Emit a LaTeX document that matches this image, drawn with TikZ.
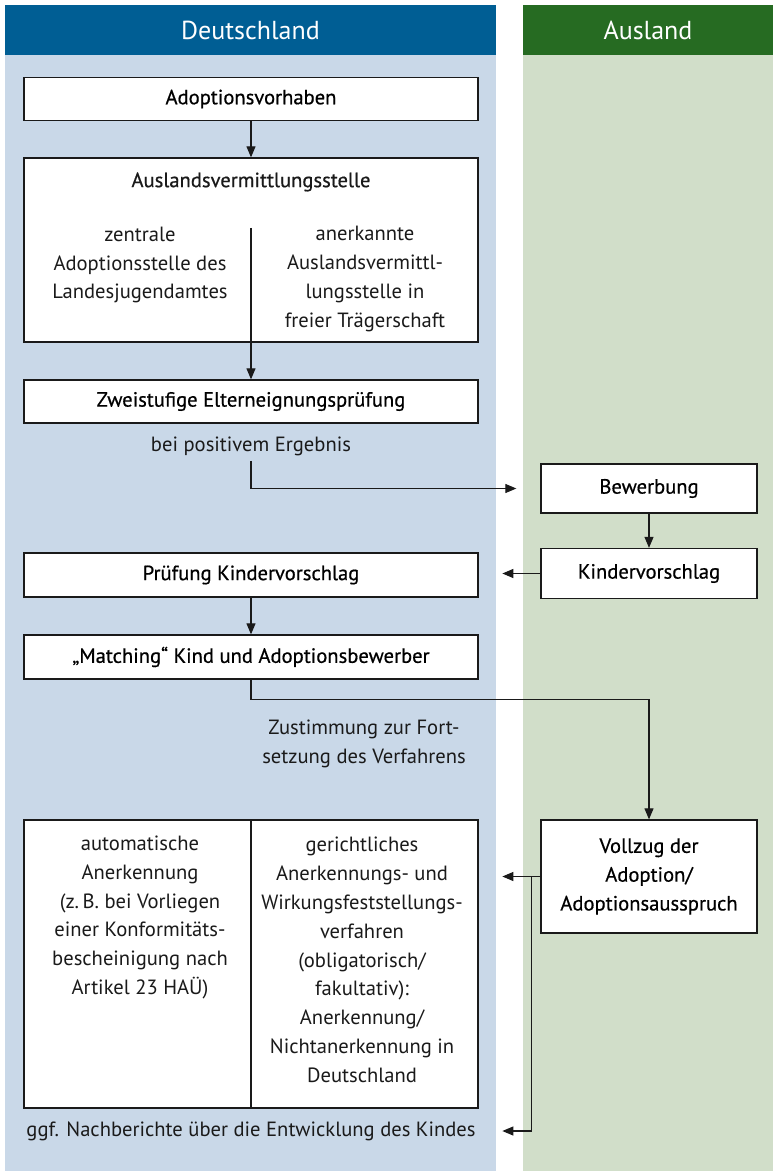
\documentclass[tikz,border=0pt]{standalone}
\usepackage{fontspec}
\setmainfont{PT Sans}
\newfontfamily\medfont[FakeBold=0.6]{PT Sans}
\usetikzlibrary{arrows.meta,positioning,calc}
\definecolor{dehead}{HTML}{005E94}
\definecolor{debg}{HTML}{C9D8E8}
\definecolor{auhead}{HTML}{266B22}
\definecolor{aubg}{HTML}{D1DEC9}
\definecolor{ink}{HTML}{1A1A1A}
\tikzset{
  lanehead/.style={text=white,inner sep=0pt,minimum height=25pt,
    font=\fontsize{13}{15}\selectfont},
  stepbox/.style={draw=ink,line width=0.65pt,fill=white,inner sep=0pt,
    align=center,minimum height=21.5pt,font=\medfont\fontsize{10.3}{14.4}\selectfont},
  wide/.style={stepbox,minimum width=227pt},
  narrow/.style={stepbox,minimum width=108pt},
  txt/.style={inner sep=0pt,align=center,text=ink,font=\fontsize{10.3}{14.4}\selectfont},
  boxtitle/.style={txt,font=\medfont\fontsize{10.3}{14.4}\selectfont},
  flow/.style={-{Triangle[length=5.5pt,width=4.5pt]},line width=0.55pt,draw=ink},
  rule/.style={line width=0.55pt,draw=ink},
}

\begin{document}
\begin{tikzpicture}[x=0.5pt,y=-0.5pt]
  \useasboundingbox (0,0) rectangle (773,1171);
  % lanes
  \fill[debg] (5,5) rectangle (496,1171);
  \fill[aubg] (523,5) rectangle (773,1171);
  \node[lanehead,fill=dehead,minimum width=245.5pt] (de) at (250.5,30) {Deutschland};
  \node[lanehead,fill=auhead,minimum width=125pt] (au) at (648,30) {Ausland};

  % Deutschland
  \node[wide] (vorh) at (251,99) {Adoptionsvorhaben};
  \node[wide,minimum height=92pt] (avs) at (251,250) {};
  \node[boxtitle] (avst) at (251,182) {Auslandsvermittlungsstelle};
  \coordinate (divtop) at (251,228);
  \node[txt] (avsl) at (140,265) {zentrale\\Adoptionsstelle des\\Landesjugendamtes};
  \node[txt] (avsr) at (365,279) {anerkannte\\Auslandsvermittl-\\lungsstelle in\\freier Trägerschaft};
  \node[wide] (zwei) at (251,401.5) {Zweistufige Elterneignungsprüfung};
  \node[txt] (pos) at (251,446) {bei positivem Ergebnis};
  \node[wide,minimum height=22pt] (pruef) at (251,575) {Prüfung Kindervorschlag};
  \node[wide,minimum height=22pt] (match) at (251,657) {„Matching“ Kind und Adoptionsbewerber};
  \node[txt] (zust) at (364,744) {Zustimmung zur Fort-\\setzung des Verfahrens};
  \node[wide,minimum height=144pt] (aner) at (251,964) {};
  \node[txt] (anerl) at (140,917.5) {automatische\\Anerkennung\\(z.\,B. bei Vorliegen\\einer Konformitäts-\\bescheinigung nach\\Artikel 23 HAÜ)};
  \node[txt] (anerr) at (362,960) {gerichtliches\\Anerkennungs- und\\Wirkungsfeststellungs-\\verfahren\\(obligatorisch/\\fakultativ):\\Anerkennung/\\Nichtanerkennung in\\Deutschland};
  \node[txt] (nach) at (251,1131) {ggf. Nachberichte über die Entwicklung des Kindes};

  % Ausland
  \node[narrow,minimum height=24.5pt] (bew) at (649,488.5) {Bewerbung};
  \node[narrow,minimum height=25pt] (kvor) at (649,573.5) {Kindervorschlag};
  \node[narrow,minimum height=56.5pt] (vollz) at (649,876.5) {Vollzug der\\Adoption/\\Adoptionsausspruch};

  % connectors
  \draw[flow] (vorh) -- (avs);
  \draw[rule] (divtop) -- (avs.south);
  \draw[rule] (divtop |- aner.north) -- (aner.south);
  \draw[flow] (avs) -- (zwei);
  \draw[flow] ([yshift=-2.5pt]pos.south) |- ([xshift=-12pt]bew.west);
  \draw[flow] (bew) -- (kvor);
  \draw[flow] (kvor.west) -- ([xshift=-19pt]kvor.west);
  \draw[flow] (pruef) -- (match);
  \draw[flow] (match.south) -- ++(0,20) -| (vollz.north);
  \coordinate (tip) at ([xshift=-19pt]vollz.west);
  \draw[flow] (vollz.west) -- (tip);
  \draw[flow] ([xshift=-4.5pt]vollz.west) |- (tip |- nach);
\end{tikzpicture}
\end{document}
